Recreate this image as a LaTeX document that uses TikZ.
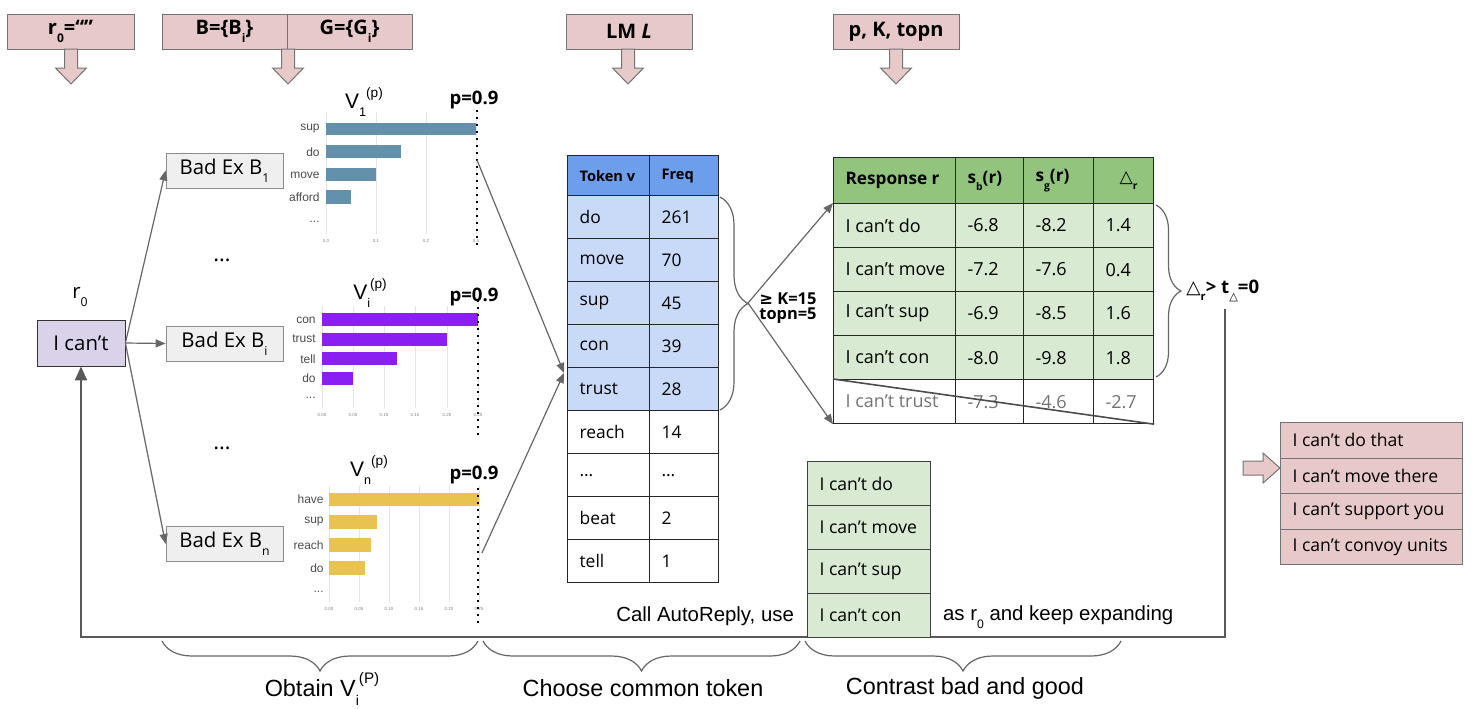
\documentclass[tikz,border=0pt]{standalone}
\usepackage{fontspec}
\setmainfont{Open Sans}
\newfontfamily\arialf{Liberation Sans}
\newfontfamily\dejavu{DejaVu Sans}
\usetikzlibrary{arrows.meta,decorations.pathreplacing,calc}
\definecolor{pinkc}{HTML}{E8C9C9}
\definecolor{lavc}{HTML}{D9D2E9}
\definecolor{badc}{HTML}{EFEFEF}
\definecolor{tokhead}{HTML}{6D9EEB}
\definecolor{tokrow}{HTML}{C9DAF8}
\definecolor{reshead}{HTML}{93C47D}
\definecolor{resrow}{HTML}{D9EAD3}
\definecolor{barblue}{HTML}{6390AB}
\definecolor{barpurp}{HTML}{8A1FF2}
\definecolor{baryel}{HTML}{E9C350}
\newcommand\fsz[1]{\fontsize{#1}{#1}\selectfont}
\newcommand\tri{{\dejavu\mdseries △}}
\newcommand\lsub[1]{\raisebox{-0.75ex}{\scalebox{0.6}{#1}}}
\newcommand\hsup[1]{\raisebox{1.0ex}{\scalebox{0.65}{#1}}}
\newcommand\tcell[7]{\node[#6, anchor=north west, minimum width=#4*0.5pt, minimum height=#5*0.5pt, inner sep=0pt] (#1) at (#2,#3) {\makebox[\dimexpr #4pt/2-12pt\relax][l]{#7}};}
\newcommand\dnarr[2]{\draw[blockarr] ({#1-6.5},{#2}) -- ({#1+6.5},{#2}) -- ({#1+6.5},{#2+19}) -- ({#1+15.5},{#2+19}) -- ({#1},{#2+35}) -- ({#1-15.5},{#2+19}) -- ({#1-6.5},{#2+19}) -- cycle;}
\tikzset{
 hdr/.style={draw=black!55, fill=pinkc, inner sep=0pt, minimum height=17.5pt, font=\fsz{10}\bfseries},
 conn/.style={draw=black!60, line width=0.6pt, -{Triangle[length=5pt,width=4pt]}},
 back/.style={draw=black!65, line width=1pt, -{Triangle[length=7pt,width=6pt]}},
 blockarr/.style={draw=black!55, fill=pinkc, line width=0.5pt},
 badex/.style={draw=black!45, fill=badc, minimum width=58.5pt, minimum height=17.5pt, inner sep=0pt, font=\fsz{10.2}},
 brc/.style={draw=black!60, line width=0.6pt, decorate, decoration={brace, amplitude=#1}},
 brcm/.style={draw=black!60, line width=0.6pt, decorate, decoration={brace, mirror, amplitude=#1}},
 tkh/.style={draw=black!85, line width=0.6pt, fill=tokhead, font=\fsz{7.3}\bfseries},
 tkr/.style={draw=black!85, line width=0.6pt, fill=tokrow, font=\fsz{8.7}},
 tkw/.style={draw=black!85, line width=0.6pt, fill=white, font=\fsz{8.7}},
 rsh/.style={draw=black!85, line width=0.6pt, fill=reshead, font=\fsz{8.6}\bfseries},
 rsr/.style={draw=black!85, line width=0.6pt, fill=resrow, font=\fsz{9}},
 rsx/.style={draw=black!85, line width=0.6pt, fill=white, font=\fsz{9}, text=black!55},
 gl/.style={draw=black!75, line width=0.6pt, fill=resrow, font=\fsz{8.8}},
 pl/.style={draw=black!55, line width=0.6pt, fill=pinkc, font=\fsz{8.8}},
 blbl/.style={anchor=east, font=\arialf\fsz{6}, text=black!70, inner sep=0pt},
 tick/.style={font=\arialf\fsz{2.2}, text=black!50, inner sep=0pt},
 gridl/.style={draw=black!10, line width=0.4pt},
 pline/.style={draw=black, line width=1pt, dash pattern=on 1pt off 2.5pt},
 vtitle/.style={font=\arialf\fsz{10.5}},
 pval/.style={font=\bfseries\fsz{9.3}},
 bigl/.style={font=\arialf\fsz{11.7}},
}
\begin{document}
\begin{tikzpicture}[x=0.5pt,y=-0.5pt]
\useasboundingbox (0,0) rectangle (1472,708);
% header boxes
\node[hdr, minimum width=63.5pt] (hr0) at (70.5,31.5) {r\lsub{0}=“”};
\node[hdr, minimum width=62.5pt] (hb) at (224.5,31.5) {B=\{B\lsub{i}\}};
\node[hdr, minimum width=62.5pt] (hg) at (349.5,31.5) {G=\{G\lsub{i}\}};
\node[hdr, minimum width=63pt] (hlm) at (629,31.5) {LM \textit{L}};
\node[hdr, minimum width=63pt] (hp) at (896,31.5) {p, K, topn};
\dnarr{71}{49}
\dnarr{288}{49}
\dnarr{628}{49}
\dnarr{896}{49}
% start node
\node[font=\fsz{10.2}] (r0l) at (80,297) {r\lsub{0}};
\node[draw=black!80, fill=lavc, minimum width=44pt, minimum height=23pt, inner sep=0pt, font=\fsz{10.2}] (ic) at (81,343) {I can’t};
\node[badex] (b1) at (224.5,170.5) {Bad Ex B\lsub{1}};
\node[badex] (bi) at (224.5,343.5) {Bad Ex B\lsub{i}};
\node[badex] (bn) at (224.5,544) {Bad Ex B\lsub{n}};
\draw[conn] (ic.east) -- (b1.west);
\draw[conn] (ic.east) -- (bi.west);
\draw[conn] (ic.east) -- (bn.west);
\node[font=\fsz{11}] (d1) at (222,260) {…};
\node[font=\fsz{11}] (d2) at (222,448) {…};
% chart 1
\foreach \x/\t in {326/0.0,376/0.1,426/0.2,476/0.3}{\draw[gridl] (\x,112) -- (\x,234); \node[tick] at (\x,241) {\t};}
\fill[barblue] (326,123) rectangle (476,135);
\fill[barblue] (326,145) rectangle (401,158);
\fill[barblue] (326,168) rectangle (376,181);
\fill[barblue] (326,190) rectangle (351,204);
\node[blbl] (c1a) at (320,129) {sup};
\node[blbl] (c1b) at (320,152) {do};
\node[blbl] (c1c) at (320,175) {move};
\node[blbl] (c1d) at (320,197) {afford};
\node[blbl] (c1e) at (320,222) {...};
\node[vtitle] (v1) at (364,102) {V\lsub{1}\hsup{(p)}};
\node[pval] (p1) at (474,100) {p=0.9};
\draw[pline] (477,110) -- (477,248);
% chart 2
\foreach \x/\t in {322/0.00,353/0.05,384/0.10,415/0.15,447/0.20,478/0.25}{\draw[gridl] (\x,306) -- (\x,408); \node[tick] at (\x,415) {\t};}
\fill[barpurp] (322,313) rectangle (478,326);
\fill[barpurp] (322,333) rectangle (447,346);
\fill[barpurp] (322,352) rectangle (397,365);
\fill[barpurp] (322,372) rectangle (353,385);
\node[blbl] (c2a) at (316,320) {con};
\node[blbl] (c2b) at (316,339) {trust};
\node[blbl] (c2c) at (316,359) {tell};
\node[blbl] (c2d) at (316,378) {do};
\node[blbl] (c2e) at (316,398) {...};
\node[vtitle] (v2) at (370,293) {V\lsub{i}\hsup{(p)}};
\node[pval] (p2) at (474,297) {p=0.9};
\draw[pline] (478,300) -- (478,440);
% chart 3
\foreach \x/\t in {329/0.00,359/0.05,389/0.10,419/0.15,449/0.20,479/0.25}{\draw[gridl] (\x,486) -- (\x,602); \node[tick] at (\x,609) {\t};}
\fill[baryel] (329,493) rectangle (479,506);
\fill[baryel] (329,515) rectangle (377,529);
\fill[baryel] (329,538) rectangle (371,552);
\fill[baryel] (329,561) rectangle (365,575);
\node[blbl] (c3a) at (324,499) {have};
\node[blbl] (c3b) at (324,522) {sup};
\node[blbl] (c3c) at (324,545) {reach};
\node[blbl] (c3d) at (324,568) {do};
\node[blbl] (c3e) at (324,592) {...};
\node[vtitle] (v3) at (369,470) {V\lsub{n}\hsup{(p)}};
\node[pval] (p3) at (474,475) {p=0.9};
\draw[pline] (478,488) -- (478,628);
% token table
\tcell{th1}{567}{155}{82}{40}{tkh}{Token v}
\tcell{th2}{649}{155}{69}{40}{tkh}{Freq}
\tcell{ta1}{567}{195}{82}{43}{tkr}{do}      \tcell{tb1}{649}{195}{69}{43}{tkr}{261}
\tcell{ta2}{567}{238}{82}{43}{tkr}{move}    \tcell{tb2}{649}{238}{69}{43}{tkr}{70}
\tcell{ta3}{567}{281}{82}{43}{tkr}{sup}     \tcell{tb3}{649}{281}{69}{43}{tkr}{45}
\tcell{ta4}{567}{324}{82}{43}{tkr}{con}     \tcell{tb4}{649}{324}{69}{43}{tkr}{39}
\tcell{ta5}{567}{367}{82}{43}{tkr}{trust}   \tcell{tb5}{649}{367}{69}{43}{tkr}{28}
\tcell{ta6}{567}{410}{82}{43}{tkw}{reach}   \tcell{tb6}{649}{410}{69}{43}{tkw}{14}
\tcell{ta7}{567}{453}{82}{43}{tkw}{…}       \tcell{tb7}{649}{453}{69}{43}{tkw}{…}
\tcell{ta8}{567}{496}{82}{43}{tkw}{beat}    \tcell{tb8}{649}{496}{69}{43}{tkw}{2}
\tcell{ta9}{567}{539}{82}{43}{tkw}{tell}    \tcell{tb9}{649}{539}{69}{43}{tkw}{1}
\coordinate (s1) at (477,160);
\coordinate (s3) at (482,553);
\coordinate (tin) at (564,373);
\draw[conn] (s1) -- (tin);
\draw[conn] (s3) -- (tin);
% brace + rule
\draw[brc=14pt] (720,197) -- (720,410);
\coordinate (btip) at (748,303);
\node[font=\fsz{8.2}\bfseries, align=left, anchor=west, inner sep=0pt] (krule) at (759,308) {{\dejavu\bfseries ≥} K=15\\[-1pt]topn=5};
% response table
\tcell{rh1}{833}{157}{122}{46}{rsh}{Response r}
\tcell{rh2}{955}{157}{68}{46}{rsh}{s\lsub{b}(r)}
\tcell{rh3}{1023}{157}{70}{46}{rsh}{s\lsub{g}(r)}
\tcell{rh4}{1093}{157}{60}{46}{rsh}{\hspace*{7pt}\tri\lsub{r}}
\tcell{ra1}{833}{203}{122}{44}{rsr}{I can’t do}    \tcell{rb1}{955}{203}{68}{44}{rsr}{-6.8} \tcell{rc1}{1023}{203}{70}{44}{rsr}{-8.2} \tcell{rd1}{1093}{203}{60}{44}{rsr}{1.4}
\tcell{ra2}{833}{247}{122}{44}{rsr}{I can’t move}  \tcell{rb2}{955}{247}{68}{44}{rsr}{-7.2} \tcell{rc2}{1023}{247}{70}{44}{rsr}{-7.6} \tcell{rd2}{1093}{247}{60}{44}{rsr}{0.4}
\tcell{ra3}{833}{291}{122}{44}{rsr}{I can’t sup}   \tcell{rb3}{955}{291}{68}{44}{rsr}{-6.9} \tcell{rc3}{1023}{291}{70}{44}{rsr}{-8.5} \tcell{rd3}{1093}{291}{60}{44}{rsr}{1.6}
\tcell{ra4}{833}{335}{122}{44}{rsr}{I can’t con}   \tcell{rb4}{955}{335}{68}{44}{rsr}{-8.0} \tcell{rc4}{1023}{335}{70}{44}{rsr}{-9.8} \tcell{rd4}{1093}{335}{60}{44}{rsr}{1.8}
\tcell{ra5}{833}{379}{122}{44}{rsx}{I can’t trust} \tcell{rb5}{955}{379}{68}{44}{rsx}{-7.3} \tcell{rc5}{1023}{379}{70}{44}{rsx}{-4.6} \tcell{rd5}{1093}{379}{60}{44}{rsx}{-2.7}
\draw[draw=black!70, line width=0.8pt] (ra5.north west) -- (rd5.south east);
\draw[conn] (btip) -- (ra1.north west);
\draw[conn] (btip) -- (ra5.south west);
\draw[brc=12.5pt] (1156,205) -- (1156,377);
\node[font=\fsz{9.3}\bfseries, anchor=west, inner sep=0pt] (dr) at (1186,291) {\tri\lsub{r}> t\lsub{\tri}=0};
% return loop
\coordinate (vd) at (1225,309);
\coordinate (vc) at (1225,637);
\draw[back] (vd) -- (vc) -| (ic.south);
% good list
\tcell{g1}{807}{461}{123}{44}{gl}{I can’t do}
\tcell{g2}{807}{505}{123}{44}{gl}{I can’t move}
\tcell{g3}{807}{549}{123}{44}{gl}{I can’t sup}
\tcell{g4}{807}{593}{123}{44}{gl}{I can’t con}
\node[font=\arialf\fsz{10.2}, anchor=east] (call) at (801,616) {Call AutoReply, use};
\node[font=\arialf\fsz{10.2}, anchor=west] (asr) at (936,617) {as r\lsub{0} and keep expanding};
% right list
\tcell{l1}{1280}{422}{182}{35.5}{pl}{I can’t do that}
\tcell{l2}{1280}{457.5}{182}{35.5}{pl}{I can’t move there}
\tcell{l3}{1280}{493}{182}{35.5}{pl}{I can’t support you}
\tcell{l4}{1280}{528.5}{182}{35.5}{pl}{I can’t convoy units}
\draw[blockarr] (1243,461) -- (1263,461) -- (1263,453) -- (1280,468) -- (1263,483) -- (1263,475) -- (1243,475) -- cycle;
% bottom braces
\draw[brcm=15pt] (162,641) -- (478,641);
\draw[brcm=15pt] (483,641) -- (800,641);
\draw[brcm=15pt] (805,641) -- (1121,641);
\node[bigl] (ob) at (322,689) {Obtain V\lsub{i}\hsup{(P)}};
\node[bigl] (ch) at (643,688) {Choose common token};
\node[bigl] (co) at (965,688) {Contrast bad and good};
\end{tikzpicture}
\end{document}
